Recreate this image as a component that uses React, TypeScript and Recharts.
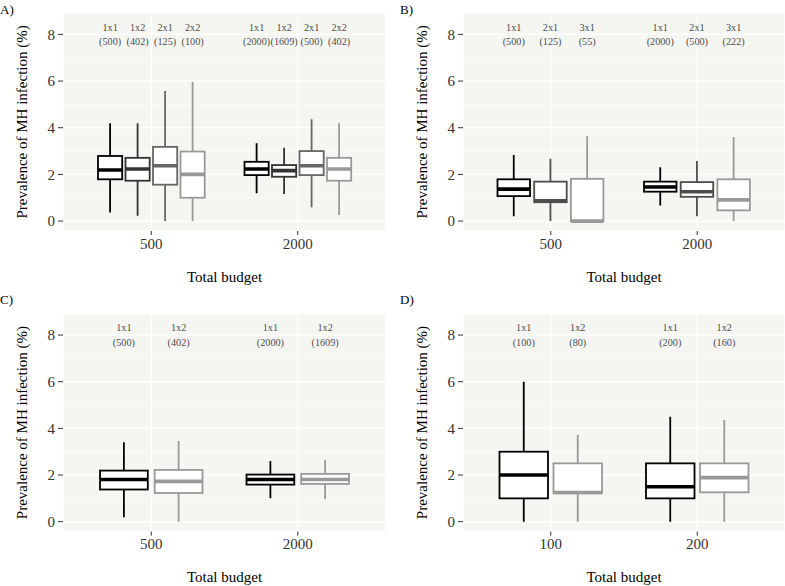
import React from 'react';
import { ComposedChart, Bar, XAxis, YAxis, CartesianGrid } from 'recharts';

// each box: [min, q1, median, q3, max], outer index = design, inner = budget
const budgetsAC = ['500', '2000'];
const budgetsD = ['100', '200'];

const designsA = ['1x1', '1x2', '2x1', '2x2'];
const sizesA = [[500, 2000], [402, 1609], [125, 500], [100, 402]];
const statsA = [
  [[0.37, 1.79, 2.19, 2.79, 4.19], [1.19, 1.97, 2.23, 2.54, 3.33]],
  [[0.23, 1.73, 2.23, 2.71, 4.19], [1.16, 1.9, 2.16, 2.4, 3.14]],
  [[0, 1.56, 2.37, 3.18, 5.57], [0.59, 1.97, 2.37, 3.0, 4.36]],
  [[0, 1.0, 2.0, 2.98, 5.97], [0.26, 1.73, 2.23, 2.71, 4.19]],
];

const designsB = ['1x1', '2x1', '3x1'];
const sizesB = [[500, 2000], [125, 500], [55, 222]];
const statsB = [
  [[0.21, 1.07, 1.37, 1.79, 2.83], [0.67, 1.26, 1.46, 1.69, 2.31]],
  [[0, 0.81, 0.87, 1.69, 2.67], [0.21, 1.04, 1.26, 1.67, 2.57]],
  [[0, 0, 0, 1.81, 3.64], [0, 0.46, 0.91, 1.79, 3.6]],
];

const designsC = ['1x1', '1x2'];
const sizesC = [[500, 2000], [402, 1609]];
const statsC = [
  [[0.19, 1.38, 1.81, 2.19, 3.41], [1.0, 1.59, 1.81, 2.02, 2.6]],
  [[0, 1.23, 1.73, 2.22, 3.46], [0.97, 1.62, 1.81, 2.05, 2.65]],
];

const designsD = ['1x1', '1x2'];
const sizesD = [[100, 200], [80, 160]];
const statsD = [
  [[0, 1.0, 2.0, 3.0, 6.0], [0, 1.0, 1.5, 2.5, 4.5]],
  [[0, 1.22, 1.25, 2.5, 3.73], [0, 1.26, 1.89, 2.5, 4.36]],
];

const yDomain = [-0.425, 8.925];
const yTicks = [0, 2, 4, 6, 8];
const yMinor = [1, 3, 5, 7];

const greys: Record<number, string[]> = {
  2: ['#000000', '#999999'],
  3: ['#000000', '#4d4d4d', '#999999'],
  4: ['#000000', '#333333', '#666666', '#999999'],
};

const FONT = '"Liberation Serif", "DejaVu Serif", serif';
const FS = 15;

// minor grid rows, placed with the y scale when it is handed over, else from the plot box
const minorRows = (args: any) => {
  const s = args && args.yAxis && args.yAxis.scale;
  if (typeof s === 'function') return yMinor.map((v) => s(v));
  const off = args && args.offset;
  if (!off) return [];
  return yMinor.map((v) => off.top + (off.height * (yDomain[1] - v)) / (yDomain[1] - yDomain[0]));
};

function BoxShape(props: any) {
  const { x, y, width, height, stat, color, design, size } = props;
  if (!stat) return null;
  const [mn, q1, md, q3, mx] = stat;
  const py = (v: number) => y + (height * (mx - v)) / (mx - mn);
  const cx = x + width / 2;
  return (
    <g>
      <line x1={cx} x2={cx} y1={py(mx)} y2={py(q3)} stroke={color} strokeWidth={1.8} />
      <line x1={cx} x2={cx} y1={py(q1)} y2={py(mn)} stroke={color} strokeWidth={1.8} />
      <rect x={x} y={py(q3)} width={width} height={py(q1) - py(q3)} fill="#ffffff" stroke={color} strokeWidth={1.8} />
      <line x1={x} x2={x + width} y1={py(md)} y2={py(md)} stroke={color} strokeWidth={3.6} />
      <text x={cx} y={py(8.31)} textAnchor="middle" dominantBaseline="central" fontSize={10.2} fontFamily={FONT} fill="#4d4d4d">
        {design}
      </text>
      <text x={cx} y={py(7.69)} textAnchor="middle" dominantBaseline="central" fontSize={10.2} fontFamily={FONT} fill="#4d4d4d">
        ({size})
      </text>
    </g>
  );
}

interface PanelProps {
  letter: string;
  left: number;
  top: number;
  width: number;
  height: number;
  marginTop: number;
  xAxisHeight: number;
  yAxisWidth: number;
  yLabelOffset: number;
  xLabelOffset: number;
  budgets: string[];
  designs: string[];
  sizes: number[][];
  stats: number[][][];
  barSize: number;
  barGap: number;
  pad: number;
}

function Panel(p: PanelProps) {
  const rows = p.budgets.map((b, i) => ({ budget: b, idx: i }));
  const colors = greys[p.designs.length];
  return (
    <div style={{ position: 'absolute', left: p.left, top: p.top, width: p.width, height: p.height }}>
      <div style={{ position: 'absolute', left: p.letter === 'B)' || p.letter === 'D)' ? 8 : 0, top: 2, fontSize: 13 }}>
        {p.letter}
      </div>
      <ComposedChart
        width={p.width}
        height={p.height}
        data={rows}
        margin={{ top: p.marginTop, right: 0, left: 0, bottom: 0 }}
        barSize={p.barSize}
        barGap={p.barGap}
      >
        {/* minor lines first, then the major grid on top */}
        <CartesianGrid
          fill="#f5f5f2"
          fillOpacity={1}
          stroke="#ffffff"
          strokeWidth={0.7}
          vertical={false}
          horizontalCoordinatesGenerator={minorRows}
        />
        <CartesianGrid stroke="#ffffff" strokeWidth={1.4} />
        <XAxis
          dataKey="budget"
          height={p.xAxisHeight}
          padding={{ left: p.pad, right: p.pad }}
          axisLine={false}
          tickSize={4}
          tickMargin={3}
          tickLine={{ stroke: '#333333' }}
          tick={{ fill: '#333333', fontSize: FS, fontFamily: FONT }}
          label={{ value: 'Total budget', position: 'insideBottom', offset: p.xLabelOffset, fill: '#000000', fontSize: FS, fontFamily: FONT }}
        />
        <YAxis
          width={p.yAxisWidth}
          type="number"
          domain={yDomain}
          allowDataOverflow
          ticks={yTicks}
          axisLine={false}
          tickSize={5}
          tickMargin={3}
          tickLine={{ stroke: '#333333' }}
          tick={{ fill: '#333333', fontSize: FS, fontFamily: FONT }}
          label={{
            value: 'Prevalence of MH infection (%)',
            angle: -90,
            position: 'insideLeft',
            offset: p.yLabelOffset,
            fill: '#000000',
            fontSize: FS,
            fontFamily: FONT,
            style: { textAnchor: 'middle' },
          }}
        />
        {p.designs.map((d, j) => (
          <Bar
            key={d}
            dataKey={(row: any) => [p.stats[j][row.idx][0], p.stats[j][row.idx][4]]}
            isAnimationActive={false}
            shape={(sp: any) => {
              const i = sp.payload ? sp.payload.idx : sp.index;
              return (
                <BoxShape
                  {...sp}
                  stat={p.stats[j][i]}
                  color={colors[j]}
                  design={d}
                  size={p.sizes[j][i]}
                />
              );
            }}
          />
        ))}
      </ComposedChart>
    </div>
  );
}

export default function App() {
  return (
    <div style={{ position: 'absolute', left: 0, top: 0, width: 785, height: 586, background: '#ffffff', fontFamily: FONT, overflow: 'hidden' }}>
      <Panel letter="A)" left={0} top={0} width={386} height={290} marginTop={12.8} xAxisHeight={59}
        yAxisWidth={63} yLabelOffset={22} xLabelOffset={8} budgets={budgetsAC} designs={designsA}
        sizes={sizesA} stats={statsA} barSize={24.2} barGap={3.3} pad={15} />
      <Panel letter="B)" left={392} top={0} width={393} height={290} marginTop={12.8} xAxisHeight={59}
        yAxisWidth={71} yLabelOffset={30} xLabelOffset={8} budgets={budgetsAC} designs={designsB}
        sizes={sizesB} stats={statsB} barSize={32.5} barGap={4.2} pad={14.5} />
      <Panel letter="C)" left={0} top={290} width={386} height={296} marginTop={23.5} xAxisHeight={54.4}
        yAxisWidth={63} yLabelOffset={22} xLabelOffset={4} budgets={budgetsAC} designs={designsC}
        sizes={sizesC} stats={statsC} barSize={47.8} barGap={6.9} pad={15} />
      <Panel letter="D)" left={392} top={290} width={393} height={296} marginTop={23.5} xAxisHeight={54.4}
        yAxisWidth={71} yLabelOffset={30} xLabelOffset={4} budgets={budgetsD} designs={designsD}
        sizes={sizesD} stats={statsD} barSize={48.5} barGap={5.5} pad={14.5} />
    </div>
  );
}
